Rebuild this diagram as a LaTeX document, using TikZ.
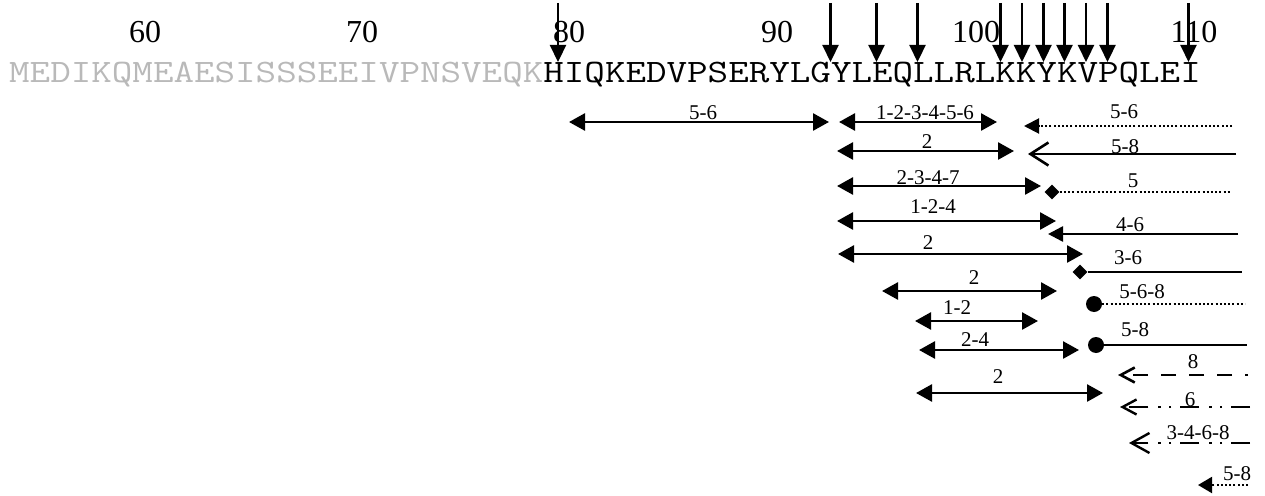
\documentclass[tikz,border=0pt]{standalone}
\usepackage{fontspec}
\setmainfont{Liberation Serif}
\newfontfamily\seqfont[FakeStretch=1.22]{Latin Modern Mono}
\usetikzlibrary{arrows.meta,shapes.geometric}
\definecolor{seqgray}{RGB}{185,185,185}
\begin{document}
\begin{tikzpicture}[x=1pt,y=-1pt,
  num/.style={anchor=base,inner sep=0pt,font=\fontsize{32}{32}\selectfont},
  lab/.style={inner sep=0pt,font=\fontsize{21}{21}\selectfont},
  cutarrow/.style={line width=2.2pt,-{Triangle[length=17pt,width=16pt]}},
  dbl/.style={line width=2.6pt,{Triangle[length=16pt,width=17pt]}-{Triangle[length=16pt,width=17pt]}},
  solidln/.style={line width=2.6pt},
  dotln/.style={line width=2pt,dash pattern=on 2pt off 2.2pt},
  dashln/.style={line width=2.6pt,dash pattern=on 15pt off 13pt,dash phase=12pt},
  ddotln/.style={line width=2.4pt,dash pattern=on 19pt off 9pt on 2.4pt off 8pt on 2.4pt off 10pt},
  filltip/.style={-{Triangle[length=15pt,width=15pt]}},
  bigbarb/.style={-{Straight Barb[length=18pt,width=23pt]}},
  smallbarb/.style={-{Straight Barb[length=14pt,width=15pt]}},
  diam/.style={diamond,fill=black,inner sep=0pt,minimum size=15pt},
  dotnode/.style={circle,fill=black,inner sep=0pt,minimum size=16pt}]
\useasboundingbox (0,0) rectangle (1265,495);
% sequence
\node[anchor=base west,inner sep=0pt,font=\fontsize{32.7}{33}\selectfont\seqfont] (seq) at (9,82)
  {\textcolor{seqgray}{MEDIKQMEAESISSSEEIVPNSVEQK}HIQKEDVPSERYLGYLEQLLRLKKYKVPQLEI};
% numbers
\node[num] (n60) at (145,42) {60};
\node[num] (n70) at (362,42) {70};
\node[num] (n80) at (569,42) {80};
\node[num] (n90) at (777,42) {90};
\node[num] (n100) at (976,42) {100};
\node[num] (n110) at (1194,42) {110};
% cleavage arrows
\foreach \i/\x in {1/558,2/830.5,3/876.5,4/917.5,5/1000.5,6/1022,7/1043.5,8/1064.5,9/1086,10/1107.5,11/1188.5}{
  \coordinate (cs\i) at (\x,3);
  \coordinate (ce\i) at (\x,62);
  \draw[cutarrow] (cs\i) -- (ce\i);
}
% row 1
\coordinate (a1) at (569,122); \coordinate (a2) at (829,122);
\draw[dbl] (a1) -- (a2); \node[lab] (la) at (703,113) {5-6};
\coordinate (b1) at (839,122); \coordinate (b2) at (997,122);
\draw[dbl] (b1) -- (b2); \node[lab] (lb) at (925,113) {1-2-3-4-5-6};
\coordinate (c1) at (1232,126); \coordinate (c2) at (1024,126);
\draw[dotln,filltip] (c1) -- (c2); \node[lab] (lc) at (1124,112) {5-6};
% row 2
\coordinate (d1) at (837,151); \coordinate (d2) at (1014,151);
\draw[dbl] (d1) -- (d2); \node[lab] (ld) at (927,142) {2};
\coordinate (e1) at (1236,154); \coordinate (e2) at (1028,154);
\draw[solidln,bigbarb] (e1) -- (e2); \node[lab] (le) at (1125,147) {5-8};
% row 3
\coordinate (f1) at (837,186); \coordinate (f2) at (1041,186);
\draw[dbl] (f1) -- (f2); \node[lab] (lf) at (928,178) {2-3-4-7};
\node[diam] (g0) at (1052,192) {}; \coordinate (g1) at (1230,192);
\draw[dotln] (g0.east) -- (g1); \node[lab] (lg) at (1133,181) {5};
% row 4
\coordinate (h1) at (837,221); \coordinate (h2) at (1056,221);
\draw[dbl] (h1) -- (h2); \node[lab] (lh) at (933,207) {1-2-4};
\coordinate (i1) at (1238,234); \coordinate (i2) at (1048,234);
\draw[solidln,filltip] (i1) -- (i2); \node[lab] (li) at (1130,225) {4-6};
% row 5
\coordinate (j1) at (838,254); \coordinate (j2) at (1083,254);
\draw[dbl] (j1) -- (j2); \node[lab] (lj) at (928,243) {2};
\node[diam] (k0) at (1080,272) {}; \coordinate (k1) at (1242,272);
\draw[solidln] (k0.east) -- (k1); \node[lab] (lk) at (1128,258) {3-6};
% row 6
\coordinate (l1) at (882,291); \coordinate (l2) at (1057,291);
\draw[dbl] (l1) -- (l2); \node[lab] (ll) at (974,278) {2};
\node[dotnode] (m0) at (1094,304) {}; \coordinate (m1) at (1245,304);
\draw[dotln] (m0.east) -- (m1); \node[lab] (lm) at (1142,292) {5-6-8};
% row 7
\coordinate (n1) at (915,321); \coordinate (n2) at (1038,321);
\draw[dbl] (n1) -- (n2); \node[lab] (lnn) at (957,308) {1-2};
\node[dotnode] (o0) at (1096,345) {}; \coordinate (o1) at (1247,345);
\draw[solidln] (o0.east) -- (o1); \node[lab] (lo) at (1135,330) {5-8};
% row 8
\coordinate (p1) at (919,350); \coordinate (p2) at (1079,350);
\draw[dbl] (p1) -- (p2); \node[lab] (lp) at (975,340) {2-4};
\coordinate (q1) at (1248,375); \coordinate (q2) at (1118,375);
\draw[dashln,smallbarb] (q1) -- (q2); \node[lab] (lq) at (1193,362) {8};
% row 9
\coordinate (r1) at (916,393); \coordinate (r2) at (1103,393);
\draw[dbl] (r1) -- (r2); \node[lab] (lr) at (998,377) {2};
% row 10
\coordinate (s1) at (1250,407); \coordinate (s2) at (1120,407);
\draw[ddotln,smallbarb] (s1) -- (s2); \node[lab] (ls) at (1190,400) {6};
% row 11
\coordinate (t1) at (1250,443); \coordinate (t2) at (1129,443);
\draw[ddotln,-{Straight Barb[length=18pt,width=20pt]}] (t1) -- (t2); \node[lab] (lt) at (1198,433) {3-4-6-8};
% row 12
\coordinate (u1) at (1248,485); \coordinate (u2) at (1198,485);
\draw[dotln,-{Triangle[length=14pt,width=16pt]}] (u1) -- (u2); \node[lab] (lu) at (1237,474) {5-8};
\end{tikzpicture}
\end{document}
